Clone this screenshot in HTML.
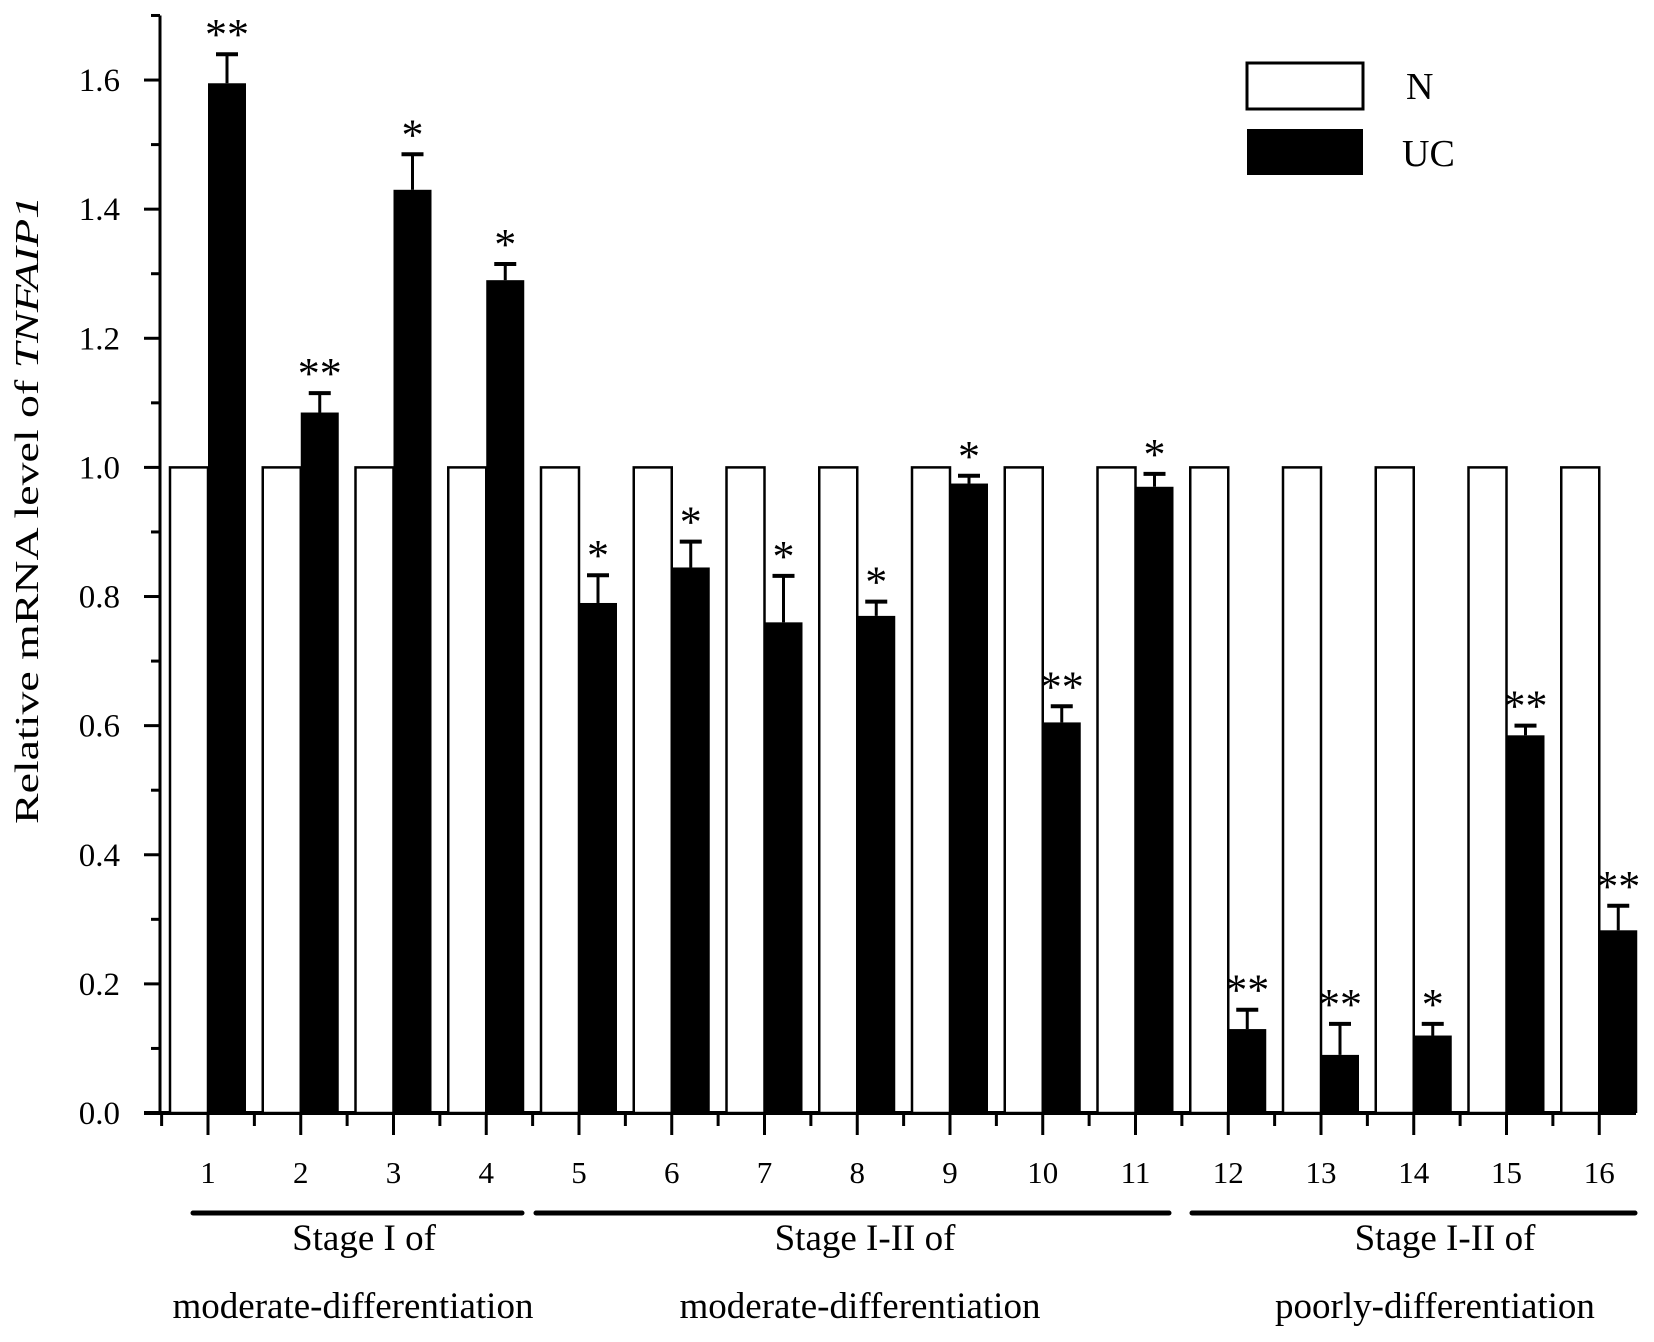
<!DOCTYPE html>
<html><head><meta charset="utf-8"><style>
body{margin:0;background:#fff;}
svg text{font-family:"Liberation Serif",serif;fill:#000;}
</style></head><body>
<svg id="chart" width="1654" height="1337" viewBox="0 0 1654 1337" xmlns="http://www.w3.org/2000/svg">
<g id="axes"></g>
<g id="bars"></g>
<g id="legend">
<rect x="1247" y="63" width="116" height="46" fill="#fff" stroke="#000" stroke-width="3"/>
<text x="1406" y="99" font-size="38">N</text>
<rect x="1247" y="129" width="116" height="46" fill="#000"/>
<text x="1402" y="166" font-size="38">UC</text>
</g>
<text transform="translate(38,510) rotate(-90)" text-anchor="middle" font-size="34" textLength="628" lengthAdjust="spacingAndGlyphs">Relative mRNA level of <tspan font-style="italic">TNFAIP1</tspan></text>
<g id="groups"></g>
</svg>
<script>
const categories=["1","2","3","4","5","6","7","8","9","10","11","12","13","14","15","16"];
const nValues=[1,1,1,1,1,1,1,1,1,1,1,1,1,1,1,1];
const ucValues=[1.595,1.085,1.43,1.29,0.79,0.845,0.76,0.77,0.975,0.605,0.97,0.13,0.09,0.12,0.585,0.283];
const ucErrors=[0.045,0.03,0.055,0.025,0.043,0.04,0.072,0.022,0.012,0.025,0.02,0.03,0.048,0.018,0.015,0.038];
const stars=["**","**","*","*","*","*","*","*","*","**","*","**","**","*","**","**"];
const yTicks=["0.0","0.2","0.4","0.6","0.8","1.0","1.2","1.4","1.6"];
const groupNames=[["Stage I of","moderate-differentiation"],["Stage I-II of","moderate-differentiation"],["Stage I-II of","poorly-differentiation"]];

const NS="http://www.w3.org/2000/svg";
const X0=160,Y0=1113,PX=645.6,C0=208,STEP=92.75,BW=38;
const groupLines=[[193,522,364,353],[536,1169,865,860],[1192,1635,1445,1435]];
const y=v=>Y0-v*PX;
const cx=i=>C0+i*STEP;
function mk(tag,attrs,parent){const e=document.createElementNS(NS,tag);for(const k in attrs)e.setAttribute(k,attrs[k]);parent.appendChild(e);return e;}
const axes=document.getElementById('axes'),bars=document.getElementById('bars'),groups=document.getElementById('groups');

let yl=mk('line',{x1:X0,y1:y(1.7),x2:X0,y2:Y0+2,stroke:'#000','stroke-width':3},axes);


let xl=mk('line',{x1:X0-16,y1:Y0,x2:1636,y2:Y0,stroke:'#000','stroke-width':4},axes);


for(let k=0;k<=17;k++){const v=k/10;const major=k%2===0;
 const t=mk('line',{x1:X0-(major?16:9),y1:y(v),x2:X0,y2:y(v),stroke:'#000','stroke-width':3},axes);
 
 }
yTicks.forEach(s=>{const t=mk('text',{x:X0-40,y:y(parseFloat(s))+11,'text-anchor':'end','font-size':33},axes);t.textContent=s;
 
 });
categories.forEach((c,i)=>{
 const x=cx(i);
 const t1=mk('line',{x1:x,y1:Y0,x2:x,y2:Y0+22,stroke:'#000','stroke-width':3},axes);
 
 
 const t2=mk('line',{x1:x-STEP/2,y1:Y0,x2:x-STEP/2,y2:Y0+13,stroke:'#000','stroke-width':3},axes);
 
 
 const lb=mk('text',{x:x,y:1183,'text-anchor':'middle','font-size':31},axes);lb.textContent=c;
 
 
 const n=mk('rect',{x:x-BW,y:y(nValues[i]),width:BW,height:Y0-y(nValues[i]),fill:'#fff',stroke:'#000','stroke-width':2.5},bars);
 
 
 const u=mk('rect',{x:x,y:y(ucValues[i]),width:BW,height:Y0-y(ucValues[i]),fill:'#000'},bars);
 
 
 const ex=x+BW/2,et=y(ucValues[i]+ucErrors[i]);
 const e1=mk('line',{x1:ex,y1:y(ucValues[i]),x2:ex,y2:et,stroke:'#000','stroke-width':3},bars);
 
 
 const e2=mk('line',{x1:ex-11,y1:et,x2:ex+11,y2:et,stroke:'#000','stroke-width':4},bars);
 
 
 const s=mk('text',{x:ex,y:et-5,'text-anchor':'middle','font-size':44},bars);s.textContent=stars[i];
 
 
});
groupLines.forEach((g,k)=>{
 const l=mk('line',{x1:g[0],y1:1213,x2:g[1],y2:1213,stroke:'#000','stroke-width':5,'stroke-linecap':'round'},groups);
 
 
 const a=mk('text',{x:g[2],y:1250,'text-anchor':'middle','font-size':37},groups);a.textContent=groupNames[k][0];
 
 
 const b=mk('text',{x:g[3],y:1318,'text-anchor':'middle','font-size':37},groups);b.textContent=groupNames[k][1];
 
 
});
</script>
</body></html>
